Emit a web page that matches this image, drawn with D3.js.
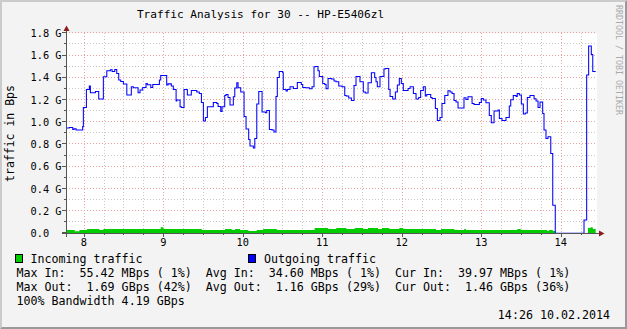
<!DOCTYPE html>
<html><head><meta charset="utf-8">
<script src="https://cdn.jsdelivr.net/npm/d3@7/dist/d3.min.js"></script>
<style>
body{margin:0;background:#fff}
svg{display:block;font-family:"DejaVu Sans Mono",monospace}
text{white-space:pre}
</style></head>
<body><svg id="chart" width="627" height="329"></svg>
<script>
// time is minutes since midnight, traffic is in G (bytes per second)
var timeDomain = [466.6, 867.4];
var dataEnd = 866.4;
var hourTicks = [480, 540, 600, 660, 720, 780, 840];
var hourLabels = ["8", "9", "10", "11", "12", "13", "14"];
var yTicks = [0, 0.2, 0.4, 0.6, 0.8, 1.0, 1.2, 1.4, 1.6, 1.8];
var yLabels = ["0.0", "0.2 G", "0.4 G", "0.6 G", "0.8 G", "1.0 G", "1.2 G", "1.4 G", "1.6 G", "1.8 G"];

var outgoing = [
  [467.0,0.947],[469.1,0.953],[471.7,0.935],[472.7,0.941],[474.2,0.929],[479.2,0.96],[479.7,1.133],
  [482.0,1.295],[484.2,1.325],[485.0,1.265],[488.8,1.277],[491.3,1.208],[494.8,1.409],[497.4,1.463],
  [500.1,1.472],[501.4,1.457],[503.4,1.475],[504.9,1.439],[506.4,1.379],[507.9,1.367],[509.9,1.343],
  [512.5,1.244],[515.9,1.319],[517.4,1.31],[521.0,1.265],[522.5,1.289],[524.5,1.313],[527.0,1.349],
  [528.0,1.337],[530.6,1.313],[532.1,1.34],[537.1,1.379],[538.1,1.421],[542.6,1.334],[543.6,1.345],
  [546.1,1.325],[547.6,1.295],[549.7,1.19],[550.2,1.199],[552.7,1.139],[553.7,1.133],[555.7,1.295],
  [558.2,1.244],[561.2,1.286],[565.3,1.271],[567.2,1.259],[568.8,1.178],[570.3,1.01],[571.8,1.043],
  [573.3,1.139],[577.8,1.178],[580.4,1.169],[581.4,1.142],[583.4,1.097],[584.4,1.139],[586.4,1.241],
  [587.4,1.25],[588.9,1.223],[590.4,1.154],[592.9,1.229],[594.0,1.307],[595.5,1.355],[596.5,1.31],
  [598.5,1.271],[601.0,1.052],[602.5,0.938],[604.5,0.845],[605.5,0.785],[608.0,0.767],[609.1,0.854],
  [610.6,1.163],[612.1,1.277],[614.6,1.091],[617.1,1.085],[618.1,1.106],[620.1,0.935],[622.1,0.929],
  [623.6,0.911],[625.1,1.232],[626.1,1.403],[627.6,1.457],[630.2,1.445],[630.6,1.295],[632.7,1.28],
  [633.7,1.295],[635.7,1.319],[638.2,1.304],[641.2,1.358],[644.2,1.34],[645.3,1.313],[647.2,1.31],
  [650.3,1.301],[652.3,1.319],[653.8,1.499],[654.8,1.502],[656.8,1.463],[657.8,1.412],[660.4,1.349],
  [661.9,1.34],[662.9,1.301],[664.4,1.394],[666.9,1.388],[668.9,1.37],[670.4,1.364],[672.5,1.325],
  [674.9,1.319],[677.0,1.241],[678.0,1.235],[680.0,1.217],[682.0,1.196],[684.0,1.331],[685.5,1.412],
  [688.5,1.364],[691.0,1.271],[692.5,1.262],[694.6,1.355],[697.1,1.445],[699.6,1.403],[700.6,1.364],
  [701.6,1.319],[703.6,1.412],[706.6,1.478],[707.6,1.484],[710.2,1.295],[711.2,1.232],[713.2,1.208],
  [715.2,1.271],[716.7,1.334],[718.2,1.394],[719.7,1.349],[721.2,1.286],[724.8,1.304],[726.3,1.319],
  [728.8,1.259],[730.8,1.208],[732.8,1.223],[734.3,1.286],[736.3,1.319],[737.8,1.235],[738.9,1.25],
  [741.9,1.223],[742.9,1.214],[745.4,1.124],[746.9,1.016],[748.9,1.043],[750.4,1.169],[752.5,1.241],
  [754.9,1.283],[756.5,1.271],[758.0,1.259],[759.5,1.196],[761.0,1.181],[762.5,1.127],[767.0,1.22],
  [768.5,1.205],[770.0,1.229],[773.1,1.169],[774.6,1.16],[778.6,1.178],[780.1,1.214],[781.6,1.199],
  [783.6,1.175],[786.1,1.061],[787.6,0.995],[789.7,1.1],[792.7,1.109],[793.7,1.034],[795.7,1.016],
  [798.7,1.043],[801.2,1.145],[802.3,1.202],[804.2,1.241],[806.3,1.232],[807.2,1.259],[808.8,1.244],
  [810.3,1.163],[811.8,1.073],[813.3,1.082],[814.8,1.223],[816.8,1.241],[819.9,1.211],[821.4,1.19],
  [822.9,1.133],[824.4,1.181],[826.4,1.079],[827.4,0.929],[828.9,0.854],[830.4,0.869],[832.5,0.719],
  [834.0,0.252],[835.9,0],[857.6,0.12],[859.6,1.424],[861.1,1.685],[863.1,1.61],[864.2,1.457]
];

var incoming = [
  [467.0,0.03],[473.2,0.018],[476.7,0.03],[482.5,0.039],[491.8,0.03],[494.8,0.039],[538.1,0.054],
  [540.1,0.039],[569.1,0.03],[586.6,0.039],[591.7,0.03],[594.2,0.039],[598.0,0.03],[604.2,0.021],
  [610.6,0.03],[615.5,0.039],[625.7,0.03],[654.3,0.048],[664.4,0.039],[670.6,0.048],[678.2,0.039],
  [684.5,0.048],[690.8,0.039],[694.6,0.048],[702.1,0.039],[705.1,0.048],[710.6,0.039],[718.2,0.048],
  [721.2,0.039],[745.9,0.03],[749.7,0.039],[759.7,0.03],[767.2,0.039],[768.5,0.03],[807.2,0.039],
  [809.8,0.03],[829.9,0.021],[831.2,0.03],[834.0,0.021],[835.9,0],[860.6,0.048],[862.6,0.054],
  [864.2,0.039]
];

var legendRows = [
  "Max In:  55.42 MBps ( 1%)  Avg In:  34.60 MBps ( 1%)  Cur In:  39.97 MBps ( 1%)",
  "Max Out:  1.69 GBps (42%)  Avg Out:  1.16 GBps (29%)  Cur Out:  1.46 GBps (36%)",
  "100% Bandwidth 4.19 GBps"
];

var W = 627, H = 329;
var svg = d3.select("#chart");

svg.append("rect").attr("width", W).attr("height", H).attr("fill", "#f3f3f3");
// 3d frame
svg.append("path").attr("fill", "#cbcbcb").attr("d", "M0,0H627L625,2H2V327L0,329Z");
svg.append("path").attr("fill", "#999").attr("d", "M627,0V329H0L2,327H625V2Z");

var x = d3.scaleLinear().domain(timeDomain).range([66, 597]);
var y = d3.scaleLinear().domain([0, 1.8]).range([233.3, 33.3]);
function px(v) { return Math.round(x(v)) + 0.5; }
function py(v) { return Math.round(y(v)) - 0.5; }

svg.append("rect").attr("x", 66).attr("y", 33).attr("width", 531).attr("height", 200).attr("fill", "#fff");

var grid = svg.append("g").attr("stroke-width", 1).attr("stroke-dasharray", "1,2");
var minorY = d3.range(1, 18, 2).map(function(d) { return d / 10; });
var minorX = d3.range(480, 860, 15).filter(function(d) { return d % 60 != 0; });

grid.selectAll(".my").data(minorY).enter().append("line")
  .attr("x1", 66).attr("x2", 597).attr("y1", py).attr("y2", py).attr("stroke", "#c8c8c8");
grid.selectAll(".mx").data(minorX).enter().append("line")
  .attr("x1", px).attr("x2", px).attr("y1", 33).attr("y2", 233).attr("stroke", "#c8c8c8");
grid.selectAll(".gy").data(yTicks.slice(1)).enter().append("line")
  .attr("x1", 66).attr("x2", 597).attr("y1", py).attr("y2", py).attr("stroke", "#eea0a0");
grid.selectAll(".gx").data(hourTicks).enter().append("line")
  .attr("x1", px).attr("x2", px).attr("y1", 33).attr("y2", 233).attr("stroke", "#eea0a0");

var inPts = incoming.concat([[dataEnd, incoming[incoming.length - 1][1]]]);
var outPts = outgoing.concat([[dataEnd, outgoing[outgoing.length - 1][1]]]);

svg.append("path").datum(inPts)
  .attr("fill", "#00cc00")
  .attr("d", d3.area().curve(d3.curveStepAfter)
    .x(function(d) { return x(d[0]); }).y0(y(0)).y1(function(d) { return y(d[1]); }));

svg.append("path").datum(outPts)
  .attr("fill", "none").attr("stroke", "#0000ff").attr("stroke-width", 1.05)
  .attr("d", d3.line().curve(d3.curveStepAfter)
    .x(function(d) { return x(d[0]); }).y(function(d) { return y(d[1]); }));

// axes
var axisCol = "#555";
svg.append("line").attr("x1", 62).attr("x2", 599).attr("y1", 233.5).attr("y2", 233.5).attr("stroke", axisCol);
svg.append("line").attr("x1", 66.5).attr("x2", 66.5).attr("y1", 237).attr("y2", 30).attr("stroke", axisCol);
svg.append("path").attr("fill", "#8b1c1c").attr("d", "M599,230.5L604.5,233.5L599,236.5Z");
svg.append("path").attr("fill", "#8b1c1c").attr("d", "M63.5,31L66.5,25.5L69.5,31Z");

svg.selectAll(".tx").data(hourTicks).enter().append("line")
  .attr("x1", px).attr("x2", px).attr("y1", 233).attr("y2", 237).attr("stroke", axisCol);
svg.selectAll(".tmx").data(minorX).enter().append("line")
  .attr("x1", px).attr("x2", px).attr("y1", 233).attr("y2", 235).attr("stroke", axisCol);
svg.selectAll(".ty").data(yTicks).enter().append("line")
  .attr("x1", 62).attr("x2", 66).attr("y1", py).attr("y2", py).attr("stroke", axisCol);
svg.selectAll(".tmy").data(minorY).enter().append("line")
  .attr("x1", 64).attr("x2", 66).attr("y1", py).attr("y2", py).attr("stroke", axisCol);

svg.selectAll(".yl").data(yTicks).enter().append("text")
  .attr("x", 30.5).attr("y", function(d) { return y(d) + 3.7; })
  .attr("font-size", "10.3px").attr("fill", "#000")
  .text(function(d, i) { return yLabels[i]; });

svg.selectAll(".xl").data(hourTicks).enter().append("text")
  .attr("x", function(d) { return x(d); }).attr("y", 245.5)
  .attr("text-anchor", "middle").attr("font-size", "10.3px").attr("fill", "#000")
  .text(function(d, i) { return hourLabels[i]; });

svg.append("text").attr("x", 260.5).attr("y", 18).attr("text-anchor", "middle")
  .attr("font-size", "11.1px").text("Traffic Analysis for 30 -- HP-E5406zl");

svg.append("text").attr("transform", "translate(13.5,133.5) rotate(-90)")
  .attr("text-anchor", "middle").attr("font-size", "11.5px").text("traffic in Bps");

svg.append("text").attr("transform", "translate(616,5) rotate(90)")
  .attr("font-size", "8.3px").attr("fill", "#aaa").text("RRDTOOL / TOBI OETIKER");

// legend
svg.append("rect").attr("x", 15.5).attr("y", 254.5).attr("width", 7).attr("height", 8)
  .attr("fill", "#00cc00").attr("stroke", "#000");
svg.append("text").attr("x", 30.5).attr("y", 263).attr("font-size", "11.65px").text("Incoming traffic");
svg.append("rect").attr("x", 248.5).attr("y", 254.5).attr("width", 7).attr("height", 8)
  .attr("fill", "#0000ff").attr("stroke", "#000");
svg.append("text").attr("x", 264).attr("y", 263).attr("font-size", "11.65px").text("Outgoing traffic");

svg.selectAll(".lg").data(legendRows).enter().append("text")
  .attr("x", 16.5).attr("y", function(d, i) { return 277 + i * 13.8; })
  .attr("font-size", "11.65px").text(function(d) { return d; });

svg.append("text").attr("x", 610).attr("y", 319).attr("text-anchor", "end")
  .attr("font-size", "11.65px").text("14:26 10.02.2014");
</script>
</body></html>
